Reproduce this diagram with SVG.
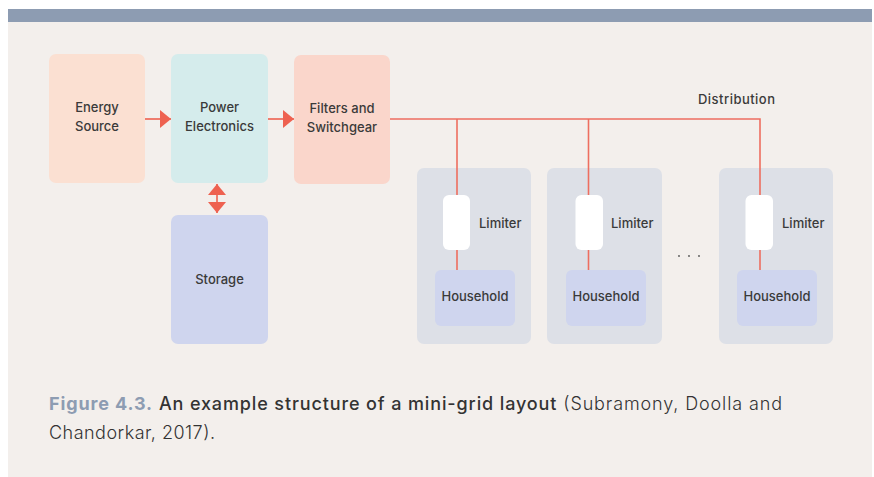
<svg xmlns="http://www.w3.org/2000/svg" width="874" height="477" viewBox="0 0 874 477">
<style>
.lbl{font-family:Inter,"Noto Sans","Liberation Sans",sans-serif;font-size:13px;font-weight:500;fill:#3a3a3a}
.mid{text-anchor:middle}
.cap{font-family:Inter,"Noto Sans","Liberation Sans",sans-serif;font-size:18px;fill:#333}
.ln{stroke:#ee6e60;stroke-width:1.6;fill:none}
.house{fill:#dde0e7}
.lim{fill:#ffffff}
.hh{fill:#cfd5ee}
</style>
<defs>
<marker id="ah" viewBox="0 0 11 18" refX="11" refY="9" markerWidth="11" markerHeight="18" markerUnits="userSpaceOnUse" orient="auto-start-reverse">
<path d="M0,0 L11,9 L0,18 z" fill="#ee6150"/>
</marker>
</defs>
<rect x="0" y="0" width="874" height="477" fill="#ffffff"/>
<rect x="8" y="9" width="864" height="468" fill="#f3efec"/>
<rect x="8" y="9" width="864" height="13" fill="#8d9cb2"/>

<g id="energy-source">
<rect x="49" y="54" width="96" height="129" rx="7" fill="#fbe0d2"/>
<text class="lbl mid" x="97" y="112">Energy</text>
<text class="lbl mid" x="97" y="131">Source</text>
</g>
<g id="power-electronics">
<rect x="171" y="54" width="97" height="129" rx="7" fill="#d5ecec"/>
<text class="lbl mid" x="219.5" y="112">Power</text>
<text class="lbl mid" x="219.5" y="131">Electronics</text>
</g>
<g id="filters-switchgear">
<rect x="294" y="55" width="96" height="129" rx="7" fill="#fad6cb"/>
<text class="lbl mid" x="342" y="113">Filters and</text>
<text class="lbl mid" x="342" y="132">Switchgear</text>
</g>
<g id="storage">
<rect x="171" y="215" width="97" height="129" rx="7" fill="#cfd5ee"/>
<text class="lbl mid" x="219.5" y="284">Storage</text>
</g>

<g id="household-1">
<rect class="house" x="417" y="168" width="114" height="176" rx="7"/>
<rect class="lim" x="443" y="195" width="27" height="55" rx="6"/>
<text class="lbl" x="479" y="228">Limiter</text>
<rect class="hh" x="435" y="270" width="80" height="56" rx="6"/>
<text class="lbl mid" x="475" y="301">Household</text>
</g>
<g id="household-2">
<rect class="house" x="547" y="168" width="115" height="176" rx="7"/>
<rect class="lim" x="575.5" y="195" width="27.5" height="55" rx="6"/>
<text class="lbl" x="611" y="228">Limiter</text>
<rect class="hh" x="566" y="270" width="80" height="56" rx="6"/>
<text class="lbl mid" x="606" y="301">Household</text>
</g>
<g id="household-n">
<rect class="house" x="719" y="168" width="114" height="176" rx="7"/>
<rect class="lim" x="745.5" y="195" width="27.5" height="55" rx="6"/>
<text class="lbl" x="782" y="228">Limiter</text>
<rect class="hh" x="737" y="270" width="80" height="56" rx="6"/>
<text class="lbl mid" x="777" y="301">Household</text>
</g>

<g id="connectors">
<line x1="145" y1="119" x2="171" y2="119" stroke="#ee6150" stroke-width="1.6" marker-end="url(#ah)"/>
<line x1="268" y1="119" x2="294" y2="119" stroke="#ee6150" stroke-width="1.6" marker-end="url(#ah)"/>
<line x1="217" y1="184" x2="217" y2="213" stroke="#ee6150" stroke-width="1.6" marker-start="url(#ah)" marker-end="url(#ah)"/>
<path class="ln" d="M390,119 H760 V195"/>
<line class="ln" x1="457" y1="119" x2="457" y2="195"/>
<line class="ln" x1="588.5" y1="119" x2="588.5" y2="195"/>
<line class="ln" x1="457" y1="250" x2="457" y2="270"/>
<line class="ln" x1="588.5" y1="250" x2="588.5" y2="270"/>
<line class="ln" x1="760" y1="250" x2="760" y2="270"/>
</g>

<text class="lbl" x="698" y="104" textLength="77" lengthAdjust="spacing">Distribution</text>
<g fill="#555">
<circle cx="679" cy="256" r="0.9"/>
<circle cx="689" cy="256" r="0.9"/>
<circle cx="699" cy="256" r="0.9"/>
</g>

<text class="cap" x="49" y="410" textLength="733" lengthAdjust="spacing"><tspan font-weight="700" fill="#8d9cb2">Figure 4.3.</tspan> <tspan font-weight="500">An example structure of a mini-grid layout</tspan> <tspan font-weight="300">(Subramony, Doolla and</tspan></text>
<text class="cap" x="49" y="439" font-weight="300" textLength="166" lengthAdjust="spacing">Chandorkar, 2017).</text>
</svg>
